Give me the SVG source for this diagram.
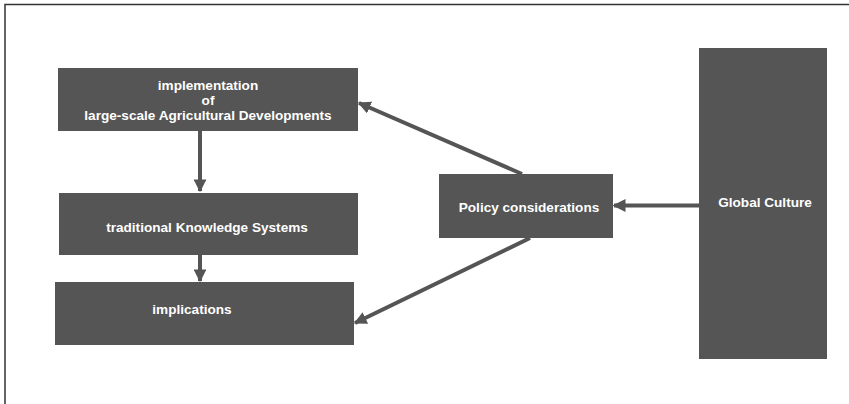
<svg xmlns="http://www.w3.org/2000/svg" width="849" height="404" viewBox="0 0 849 404">
<style>
.box{fill:#555555;}
.t{font-family:"Liberation Sans",Arial,sans-serif;font-weight:bold;font-size:13.6px;fill:#ffffff;text-anchor:middle;dominant-baseline:central;}
.c{stroke:#555555;stroke-width:4;fill:none;marker-end:url(#ah);}
</style>
<defs>
<marker id="ah" viewBox="0 0 10 10" refX="9" refY="5" markerWidth="3.2" markerHeight="3.2" orient="auto" markerUnits="strokeWidth">
<path d="M0,0 L10,5 L0,10 Z" fill="#555555"/>
</marker>
</defs>
<rect width="849" height="404" fill="#ffffff"/>
<path d="M5,404 V4.5 H849" fill="none" stroke="#333333" stroke-width="1.5"/>
<g id="connectors">
<line class="c" x1="200" y1="131" x2="200" y2="191"/>
<line class="c" x1="200" y1="255" x2="200" y2="281"/>
<line class="c" x1="699" y1="205.5" x2="614" y2="205.5"/>
<line class="c" x1="522" y1="174" x2="359" y2="103"/>
<line class="c" x1="530" y1="238" x2="355" y2="323"/>
</g>
<g id="n1">
<rect class="box" x="58" y="68" width="300" height="63"/>
<text class="t" x="208" y="85">implementation</text>
<text class="t" x="208" y="100">of</text>
<text class="t" x="208" y="115.5">large-scale Agricultural Developments</text>
</g>
<g id="n2">
<rect class="box" x="59" y="193" width="299" height="62"/>
<text class="t" x="207" y="227">traditional Knowledge Systems</text>
</g>
<g id="n3">
<rect class="box" x="55" y="282" width="299" height="63"/>
<text class="t" x="192" y="309">implications</text>
</g>
<g id="n4">
<rect class="box" x="439" y="174" width="174" height="64"/>
<text class="t" x="529" y="207.5">Policy considerations</text>
</g>
<g id="n5">
<rect class="box" x="699" y="48" width="128" height="311"/>
<text class="t" x="765" y="202">Global Culture</text>
</g>
</svg>
